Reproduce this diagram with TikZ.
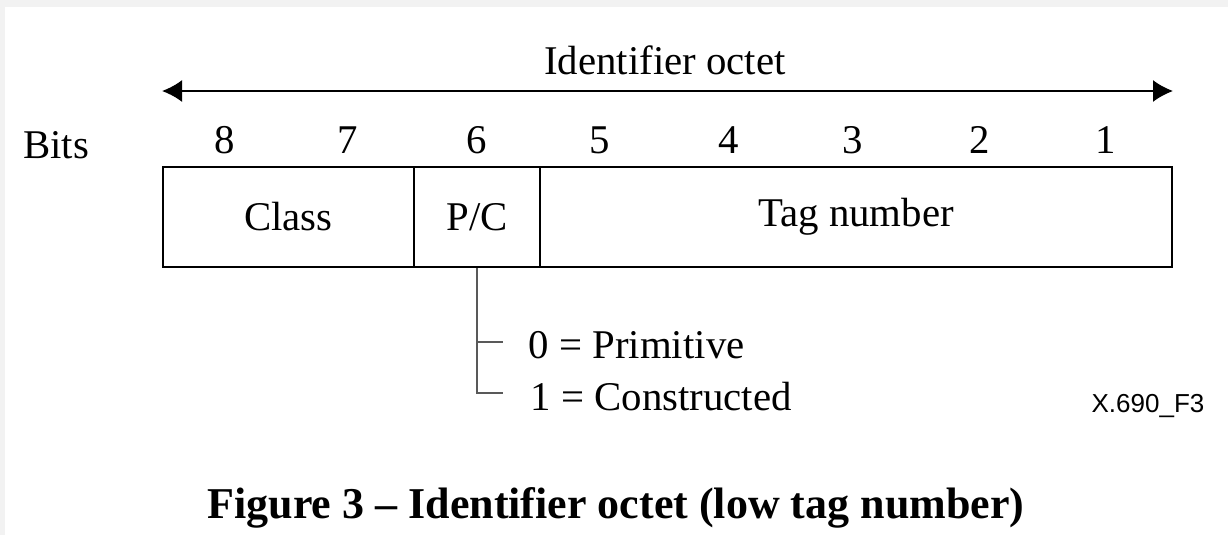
\documentclass[tikz,border=0pt]{standalone}
\usepackage{fontspec}
\setmainfont{Liberation Serif}
\setsansfont{Liberation Sans}
\usetikzlibrary{arrows.meta}
\tikzset{>={Latex[length=5pt, width=5.5pt]},
    field/.style={draw, line width=0.5pt, minimum height=25pt, inner sep=0pt, anchor=north west},
    branch/.style={draw=black!65, line width=0.45pt},
    txt/.style={font=\fontsize{10.2}{12}\selectfont, inner sep=0pt}}

\begin{document}
\begin{tikzpicture}[x=0.25pt, y=-0.25pt, font=\fontsize{10.2}{12}\selectfont]
    \fill[black!5] (0, 0) rectangle (1228, 535);
    \fill[white] (5, 7) rectangle (1228, 535);
    \useasboundingbox (0, 0) rectangle (1228, 535);
    % octet fields
    \node[field, minimum width=62.75pt] at (162, 166) (class) {Class};
    \node[field, minimum width=31.5pt] at (413, 166) (pc) {P/C};
    \node[field, minimum width=158pt] at (539, 166) (tag) {Tag number};
    % bit numbers
    \node[txt] at (56, 145) (bits) {Bits};
    \foreach \b/\x in {8/225, 7/348, 6/477, 5/600, 4/729, 3/853, 2/980, 1/1106}
        \node[txt] at (\x, 140) (bit\b) {\b};
    % span arrow
    \coordinate (octL) at (class.north west |- 0, 91);
    \coordinate (octR) at (tag.north east |- 0, 91);
    \draw[<->, line width=0.5pt] (octL) -- (octR);
    \node[txt] at (665, 60) (octet) {Identifier octet};
    % P/C values
    \coordinate (tick0) at (477, 342);
    \coordinate (tick1) at (477, 393);
    \draw[branch] (pc.south) -- (tick1) -- ++(26, 0);
    \draw[branch] (tick0) -- ++(26, 0);
    \node[txt, anchor=west] at (528, 345) (prim) {0 = Primitive};
    \node[txt, anchor=west] at (530, 397) (cons) {1 = Constructed};
    \node[font=\sffamily\fontsize{6.5}{7}\selectfont, inner sep=0pt] at (1148, 406) (fig) {X.690\_F3};
    \node[font=\bfseries\fontsize{11}{13}\selectfont, inner sep=0pt] at (616, 508) (caption) {Figure 3 – Identifier octet (low tag number)};
\end{tikzpicture}
\end{document}
